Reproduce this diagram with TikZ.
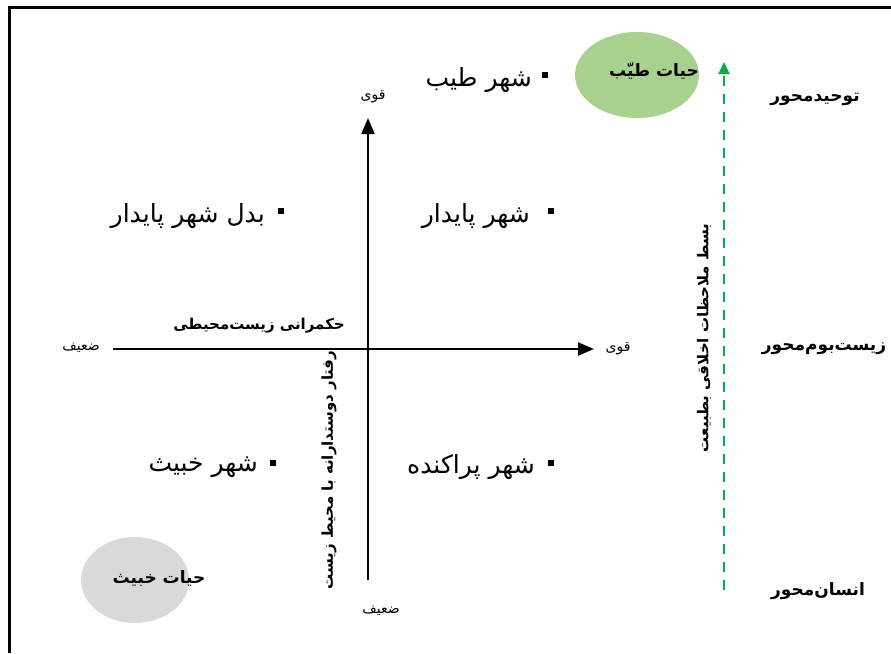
\documentclass[tikz,border=0pt]{standalone}
\usepackage{fontspec}
\setmainfont{DejaVu Sans}
\newfontfamily\fa[Script=Arabic]{DejaVu Sans}
\TeXXeTstate=1
\usetikzlibrary{arrows.meta,shapes.geometric}
\definecolor{goodfill}{RGB}{169,209,142}
\definecolor{badfill}{RGB}{217,217,217}
\definecolor{dashgreen}{RGB}{0,176,80}
\begin{document}
\begin{tikzpicture}[x=1pt,y=-1pt,
  big/.style={font=\fa\fontsize{25}{28}\selectfont, inner sep=0pt, anchor=east},
  small/.style={font=\fa\fontsize{14}{16}\selectfont, inner sep=0pt},
  bold/.style={font=\fa\bfseries\fontsize{15}{18}\selectfont, inner sep=0pt},
  boldbig/.style={font=\fa\bfseries\fontsize{17}{20}\selectfont, inner sep=0pt},
  sq/.style={fill=black, inner sep=0pt, minimum size=6.5pt},
  axis/.style={line width=2.2pt, -{Triangle[length=16pt,width=13pt]}},
  blob/.style={ellipse, draw=none, inner sep=0pt}
]
\useasboundingbox (0,0) rectangle (891,653);
% frame
\draw[line width=3pt] (9,653) -- (9,7) -- (891,7);
% axes
\coordinate (vb) at (368,580);
\coordinate (vt) at (368,118);
\coordinate (hl) at (113,349);
\coordinate (hr) at (594,349);
\draw[axis] (vb) -- (vt);
\draw[axis] (hl) -- (hr);
% axis end labels
\node[small] (strongtop) at (373,97) {\beginR قوی\endR};
\node[small] (weakbot) at (381,611) {\beginR ضعیف\endR};
\node[small] (weakleft) at (81,348) {\beginR ضعیف\endR};
\node[small] (strongright) at (618,349) {\beginR قوی\endR};
% axis titles
\node[bold, anchor=east] (gov) at (345,326) {\beginR حکمرانی زیست‌محیطی\endR};
\node[bold, rotate=90] (behav) at (329,470) {\beginR رفتار دوستدارانه با محیط زیست\endR};
% quadrant items
\node[sq] (s1) at (545,75) {};
\node[big] (q1) at (532,80) {\beginR شهر طیب\endR};
\node[sq] (s2) at (281,211) {};
\node[big] (q2) at (265,216) {\beginR بدل شهر پایدار\endR};
\node[sq] (s3) at (551,211) {};
\node[big] (q3) at (530,216) {\beginR شهر پایدار\endR};
\node[sq] (s4) at (273,463) {};
\node[big] (q4) at (258,467) {\beginR شهر خبیث\endR};
\node[sq] (s5) at (551,463) {};
\node[big] (q5) at (535,467) {\beginR شهر پراکنده\endR};
% ellipses
\node[blob, fill=goodfill, minimum width=124pt, minimum height=86pt] (good) at (637,75) {};
\node[boldbig] (goodlbl) at (654,71) {\beginR حیات طیّب\endR};
\node[blob, fill=badfill, minimum width=108pt, minimum height=86pt] (bad) at (135,580) {};
\node[boldbig] (badlbl) at (159,579) {\beginR حیات خبیث\endR};
% green dashed arrow
\coordinate (gb) at (724,590);
\coordinate (gt) at (724,62);
\draw[dashgreen, line width=2pt, dash pattern=on 10pt off 8pt, -{Triangle[length=12pt,width=11pt]}] (gb) -- (gt);
\node[bold, rotate=90] (ethic) at (704,338) {\beginR بسط ملاحظات اخلاقی بطبیعت\endR};
% right labels
\node[boldbig] (r1) at (815,99) {\beginR توحیدمحور\endR};
\node[boldbig] (r2) at (824,349) {\beginR زیست‌بوم‌محور\endR};
\node[boldbig] (r3) at (818,591) {\beginR انسان‌محور\endR};
\end{tikzpicture}
\end{document}
